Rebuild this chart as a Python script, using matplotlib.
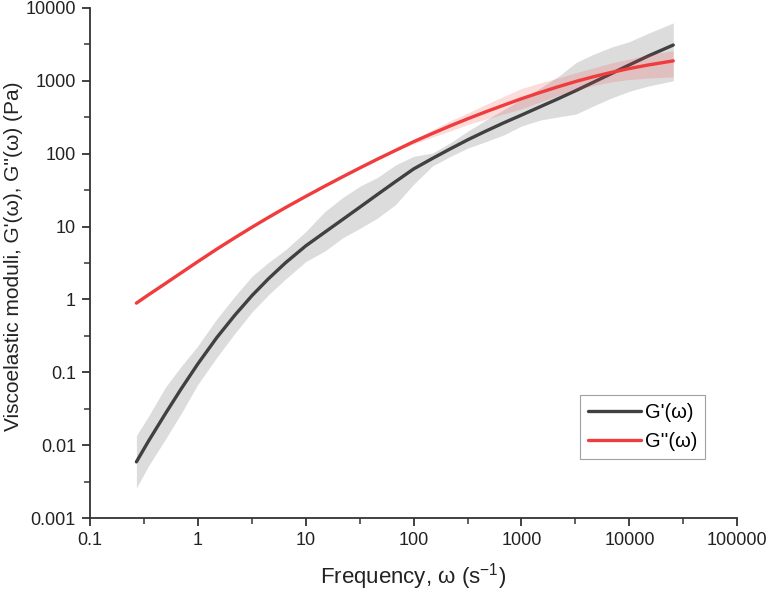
import numpy as np
import matplotlib
matplotlib.use('Agg')
import matplotlib.pyplot as plt
from matplotlib.ticker import FixedLocator, FuncFormatter, NullFormatter

plt.rcParams['font.family'] = ['Liberation Sans', 'DejaVu Sans']
plt.rcParams['mathtext.fontset'] = 'custom'
plt.rcParams['mathtext.rm'] = 'Liberation Sans'
plt.rcParams['mathtext.default'] = 'regular'

# frequency (s^-1)
omega = [0.27, 0.35, 0.5, 0.7, 1, 1.5, 2.2, 3.2, 4.5, 6.5, 10, 15, 22, 32, 46, 68,
         100, 150, 220, 320, 460, 680, 1000, 1500, 2200, 3200, 4600, 6800, 10000, 15000, 25500]

# storage modulus G' and its spread
gp = [0.0059, 0.0114, 0.0269, 0.0589, 0.130, 0.299, 0.605, 1.14, 1.91, 3.18, 5.42, 8.34, 12.5, 18.6, 27.4, 41.4,
      61.7, 86.3, 117, 156, 202, 264, 339, 443, 570, 736, 951, 1256, 1656, 2198, 3100]
gpHi = [0.0135, 0.025, 0.062, 0.12, 0.23, 0.54, 1.1, 2.1, 3.2, 4.8, 8.5, 16, 25, 36, 47, 70,
        92, 102, 142, 205, 285, 400, 560, 800, 1150, 1780, 2300, 2900, 3450, 4500, 6240]
gpLo = [0.0026, 0.0052, 0.012, 0.027, 0.068, 0.16, 0.34, 0.68, 1.15, 1.9, 3.3, 4.6, 7, 9.5, 13, 20,
        38, 68, 92, 120, 145, 180, 240, 290, 320, 350, 450, 580, 720, 850, 1000]

# loss modulus G'' and its spread
gpp = [0.89, 1.16, 1.65, 2.31, 3.30, 4.90, 7.01, 9.86, 13.3, 18.2, 25.9, 35.8, 48.2, 64.1, 83.9, 111,
       146, 190, 242, 303, 373, 462, 568, 695, 832, 982, 1135, 1306, 1476, 1652, 1879]
gppHi = [0.91, 1.19, 1.69, 2.36, 3.38, 5.01, 7.17, 10.1, 13.6, 18.6, 26.5, 36.6, 49.3, 65.6, 85.8, 113.6,
         156.5, 213, 284, 364, 470, 609, 784, 938, 1097, 1294, 1496, 1762, 1991, 2280, 2593]
gppLo = [0.87, 1.13, 1.61, 2.26, 3.23, 4.79, 6.85, 9.64, 13.0, 17.8, 25.3, 35.0, 47.1, 62.7, 82.0, 108.5,
         136, 169, 206, 252, 296, 351, 412, 515, 631, 745, 861, 968, 1045, 1091, 1132]

xTicks = [0.1, 1, 10, 100, 1000, 10000, 100000]
yTicks = [0.001, 0.01, 0.1, 1, 10, 100, 1000, 10000]

fig = plt.figure(figsize=(7.68, 5.91), dpi=100)
ax = fig.add_axes([0.117, 0.1235, 0.843, 0.863])

ax.fill_between(omega, gpLo, gpHi, color='#dcdcdc', linewidth=0, zorder=1)
ax.plot(omega, gp, color='#404040', linewidth=2.4, solid_capstyle='round', label="G'(\u03c9)", zorder=2)
ax.fill_between(omega, gppLo, gppHi, color='#f03c3c', alpha=0.18, linewidth=0, zorder=3)
ax.plot(omega, gpp, color='#f03c3c', linewidth=2.4, solid_capstyle='round', label="G''(\u03c9)", zorder=4)

ax.set_xscale('log')
ax.set_yscale('log')
ax.set_xlim(0.1, 100000)
ax.set_ylim(0.001, 10000)

ax.xaxis.set_major_locator(FixedLocator(xTicks))
ax.yaxis.set_major_locator(FixedLocator(yTicks))
ax.xaxis.set_minor_locator(FixedLocator([t * 10 ** 0.5 for t in xTicks[:-1]]))
ax.yaxis.set_minor_locator(FixedLocator([t * 10 ** 0.5 for t in yTicks[:-1]]))
fmt = FuncFormatter(lambda v, p: '%g' % v)
ax.xaxis.set_major_formatter(fmt)
ax.yaxis.set_major_formatter(fmt)
ax.xaxis.set_minor_formatter(NullFormatter())
ax.yaxis.set_minor_formatter(NullFormatter())

for s in ['top', 'right']:
    ax.spines[s].set_visible(False)
for s in ['left', 'bottom']:
    ax.spines[s].set_linewidth(1.3)
    ax.spines[s].set_color('#333333')
ax.tick_params(which='major', direction='out', length=6, width=1.3, color='#333333',
               labelsize=13, labelcolor='#222222', pad=4)
ax.tick_params(which='minor', direction='out', length=4, width=1.1, color='#333333')

ax.set_xlabel('Frequency, \u03c9 (s$^{-1}$)', fontsize=16, color='#222222', labelpad=9)
ax.set_ylabel("Viscoelastic moduli, G'(\u03c9), G''(\u03c9) (Pa)", fontsize=15, color='#222222')
ax.yaxis.set_label_coords(-0.103, 0.513)

leg = ax.legend(loc='lower right', bbox_to_anchor=(0.9505, 0.116), borderaxespad=0,
                fontsize=14.5, frameon=True, fancybox=False, handlelength=2.6,
                handletextpad=0.2, borderpad=0.4, labelspacing=0.5)
leg.get_frame().set_edgecolor('#888888')
leg.get_frame().set_linewidth(0.8)

fig.savefig('out.png', dpi=100)
